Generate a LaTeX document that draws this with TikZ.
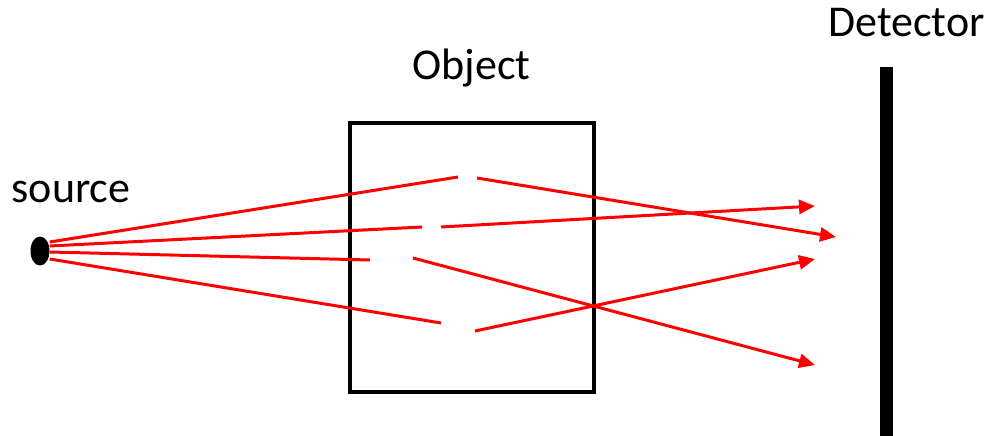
\documentclass[tikz,border=0pt]{standalone}
\usepackage{fontspec}
\setmainfont{Carlito}
\usetikzlibrary{arrows.meta,shapes.geometric}
\begin{document}
\begin{tikzpicture}[x=1pt,y=-1pt,
  ray/.style={draw=red,line width=3pt},
  arr/.style={ray,-{Triangle[length=16pt,width=14pt]}},
  lbl/.style={font=\fontsize{44}{48}\selectfont,inner sep=0pt,anchor=base}]
\useasboundingbox (0,0) rectangle (990,436);
\node[ellipse,fill=black,minimum width=19pt,minimum height=29pt,inner sep=0pt] (src) at (40,251) {};
\node[draw=black,line width=4pt,minimum width=244pt,minimum height=269pt,inner sep=0pt] (obj) at (472,257.5) {};
\node[fill=black,minimum width=13pt,minimum height=370pt,inner sep=0pt,anchor=north] (det) at (886,67) {};
\node[lbl] (tsrc) at (71,202) {source};
\node[lbl] (tobj) at (471.5,80) {Object};
\node[lbl] (tdet) at (906.5,37) {Detector};
% ray 1
\coordinate (a1) at (458,177);
\coordinate (b1) at (477,178);
\coordinate (e1) at (836,237);
\draw[ray] (src.east |- 0,242) -- (a1);
\draw[arr] (b1) -- (e1);
% ray 2
\coordinate (a2) at (422,227);
\coordinate (b2) at (441,227);
\coordinate (e2) at (815,206);
\draw[ray] (src.east |- 0,246) -- (a2);
\draw[arr] (b2) -- (e2);
% ray 3
\coordinate (a3) at (370,260);
\coordinate (b3) at (413,258);
\coordinate (e3) at (815,365);
\draw[ray] (src.east |- 0,252) -- (a3);
\draw[arr] (b3) -- (e3);
% ray 4
\coordinate (a4) at (441,323);
\coordinate (b4) at (475,331);
\coordinate (e4) at (815,259);
\draw[ray] (src.east |- 0,259) -- (a4);
\draw[arr] (b4) -- (e4);
\end{tikzpicture}
\end{document}
